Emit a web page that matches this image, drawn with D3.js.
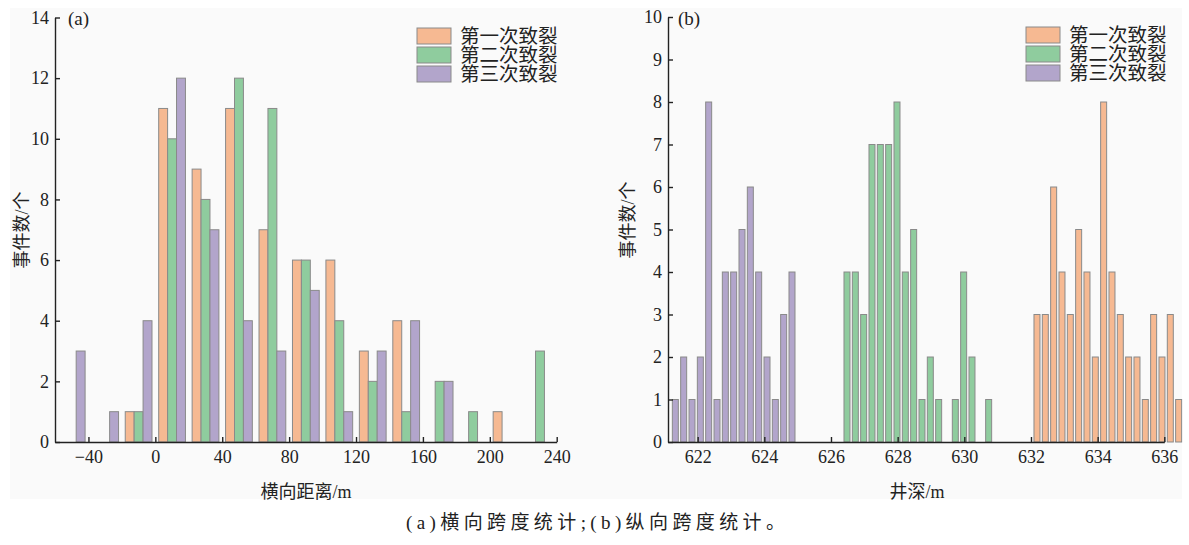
<!DOCTYPE html>
<html>
<head>
<meta charset="utf-8">
<script src="https://cdn.jsdelivr.net/npm/d3@7"></script>
<style>
  html, body { margin: 0; padding: 0; background: #fff; }
  svg text { font-family: "Liberation Serif", "Times New Roman", "Noto Sans CJK SC", serif; fill: #222; }
  .axis path, .axis line { stroke: #222; stroke-width: 1.4; }
</style>
</head>
<body>
<div id="chart"></div>
<script>
const seriesNames = ['第一次致裂', '第二次致裂', '第三次致裂'];
const seriesColors = ['#f6b992', '#8fcc9e', '#b2a5cb'];

// (a) lateral distance, 20 m bins (bin centres)
const binsA = [-50, -30, -10, 10, 30, 50, 70, 90, 110, 130, 150, 170, 190, 210, 230];
const firstA = [0, 0, 1, 11, 9, 11, 7, 6, 6, 3, 4, 0, 0, 1, 0];
const secondA = [0, 0, 1, 10, 8, 12, 11, 6, 4, 2, 1, 2, 1, 0, 3];
const thirdA = [3, 1, 4, 12, 7, 4, 3, 5, 1, 3, 4, 2, 0, 0, 0];
const ticksXA = [-40, 0, 40, 80, 120, 160, 200, 240];
const ticksYA = [0, 2, 4, 6, 8, 10, 12, 14];

// (b) well depth, bin centres and counts
const depthFirst = [632.18, 632.43, 632.68, 632.93, 633.18, 633.43, 633.68, 633.93, 634.18,
  634.43, 634.68, 634.93, 635.18, 635.43, 635.68, 635.93, 636.18, 636.43];
const countFirst = [3, 3, 6, 4, 3, 5, 4, 2, 8, 4, 3, 2, 2, 1, 3, 2, 3, 1];
const depthSecond = [626.48, 626.73, 626.98, 627.23, 627.48, 627.73, 627.98, 628.23, 628.48,
  628.73, 628.98, 629.23, 629.73, 629.98, 630.23, 630.73];
const countSecond = [4, 4, 3, 7, 7, 7, 8, 4, 5, 1, 2, 1, 1, 4, 2, 1];
const depthThird = [621.33, 621.58, 621.83, 622.08, 622.33, 622.58, 622.83, 623.08, 623.33,
  623.58, 623.83, 624.08, 624.33, 624.58, 624.83];
const countThird = [1, 2, 1, 2, 8, 1, 4, 4, 5, 6, 4, 2, 1, 3, 4];
const ticksXB = [622, 624, 626, 628, 630, 632, 634, 636];
const ticksYB = [0, 1, 2, 3, 4, 5, 6, 7, 8, 9, 10];

const serif = '"Liberation Serif", "Times New Roman", serif';
const svg = d3.select('#chart').append('svg').attr('width', 1189).attr('height', 545);
svg.append('rect').attr('x', 10).attr('y', 8).attr('width', 1172).attr('height', 491).attr('fill', '#fafafa');

function styleTicks(g) {
  g.attr('font-family', serif).attr('font-size', 18);
  g.selectAll('text').attr('fill', '#222').style('font-family', serif).style('font-size', '18px');
}

function drawAxes(x, y, tx, ty) {
  svg.append('g').attr('class', 'axis').attr('transform', `translate(0,${y.range()[0]})`)
    .call(d3.axisBottom(x).tickValues(tx).tickSizeInner(-5).tickSizeOuter(0).tickPadding(8))
    .call(styleTicks);
  svg.append('g').attr('class', 'axis').attr('transform', `translate(${x.range()[0]},0)`)
    .call(d3.axisLeft(y).tickValues(ty).tickSizeInner(-5).tickSizeOuter(0).tickPadding(6))
    .call(styleTicks);
}

function drawLegend(lx, ly) {
  const lg = svg.append('g').attr('transform', `translate(${lx},${ly})`);
  seriesNames.forEach((name, i) => {
    lg.append('rect').attr('x', 0).attr('y', i * 19).attr('width', 34).attr('height', 16)
      .attr('fill', seriesColors[i]).attr('stroke', '#8a8a8a').attr('stroke-width', 1);
    lg.append('text').attr('x', 43).attr('y', i * 19 + 15).attr('font-size', 19.5).text(name);
  });
}

// ---- panel (a)
const xA = d3.scaleLinear().domain([-60, 240]).range([55, 556.7]);
const yA = d3.scaleLinear().domain([0, 14]).range([442, 17.5]);
const barA = xA(16 / 3) - xA(0);
const seriesA = [firstA, secondA, thirdA];

seriesA.forEach((vals, s) => {
  svg.append('g').selectAll('rect').data(binsA.map((b, i) => ({ b, v: vals[i] })).filter((d) => d.v > 0))
    .join('rect')
    .attr('x', (d) => xA(d.b) + (s - 1.5) * barA)
    .attr('width', barA)
    .attr('y', (d) => yA(d.v))
    .attr('height', (d) => yA(0) - yA(d.v))
    .attr('fill', seriesColors[s])
    .attr('stroke', '#8a8a8a')
    .attr('stroke-width', 1);
});
drawAxes(xA, yA, ticksXA, ticksYA);
drawLegend(417, 28);

svg.append('text').attr('x', 68).attr('y', 25).attr('font-size', 19).text('(a)');
svg.append('text').attr('transform', 'translate(28,230) rotate(-90)').attr('text-anchor', 'middle')
  .attr('font-size', 18).text('事件数/个');
svg.append('text').attr('x', 306).attr('y', 498).attr('text-anchor', 'middle').attr('font-size', 18).text('横向距离/m');

// ---- panel (b)
const xB = d3.scaleLinear().domain([621.11, 636]).range([668, 1164.3]);
const yB = d3.scaleLinear().domain([0, 10]).range([442, 17]);
const barB = xB(0.18) - xB(0);
const seriesB = [[depthFirst, countFirst], [depthSecond, countSecond], [depthThird, countThird]];

seriesB.forEach(([depths, counts], s) => {
  svg.append('g').selectAll('rect').data(depths.map((d, i) => ({ d, v: counts[i] })))
    .join('rect')
    .attr('x', (d) => xB(d.d) - barB / 2)
    .attr('width', barB)
    .attr('y', (d) => yB(d.v))
    .attr('height', (d) => yB(0) - yB(d.v))
    .attr('fill', seriesColors[s])
    .attr('stroke', '#8a8a8a')
    .attr('stroke-width', 1);
});
drawAxes(xB, yB, ticksXB, ticksYB);
drawLegend(1026, 27);

svg.append('text').attr('x', 678).attr('y', 25).attr('font-size', 19).text('(b)');
svg.append('text').attr('transform', 'translate(634,220) rotate(-90)').attr('text-anchor', 'middle')
  .attr('font-size', 18).text('事件数/个');
svg.append('text').attr('x', 917).attr('y', 498).attr('text-anchor', 'middle').attr('font-size', 18).text('井深/m');

// caption
svg.append('text').attr('x', 406).attr('y', 529).attr('font-size', 19)
  .attr('textLength', 379).attr('lengthAdjust', 'spacing')
  .text('(a)横向跨度统计;(b)纵向跨度统计。');
</script>
</body>
</html>
